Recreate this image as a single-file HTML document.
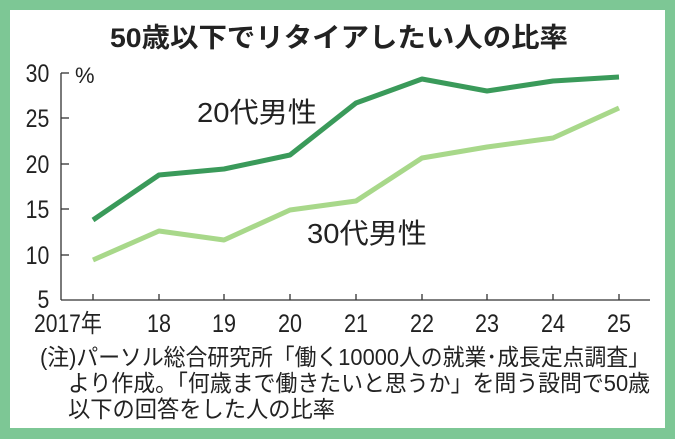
<!DOCTYPE html>
<html><head><meta charset="utf-8"><style>
html,body{margin:0;padding:0;background:#7dc795;}
body{width:675px;height:439px;position:relative;overflow:hidden;font-family:"Liberation Sans","Noto Sans CJK JP",sans-serif;}
.in{position:absolute;left:10px;top:10px;width:655px;height:418px;background:#fff;}
svg{position:absolute;left:0;top:0}
.t{font-family:"Liberation Sans","Noto Sans CJK JP",sans-serif;}
</style></head><body>
<div class="in"></div>
<svg width="675" height="439" viewBox="0 0 675 439">
<text class="t" x="110" y="47" font-size="27" font-weight="bold" textLength="458" lengthAdjust="spacingAndGlyphs" fill="#222">50歳以下でリタイアしたい人の比率</text>
<g stroke="#333" stroke-width="1.3" fill="none">
<line x1="61" y1="73" x2="61" y2="300"/>
<line x1="61" y1="300" x2="650" y2="300"/>
<line x1="61" y1="73" x2="69" y2="73"/>
<line x1="61" y1="118" x2="69" y2="118"/>
<line x1="61" y1="164" x2="69" y2="164"/>
<line x1="61" y1="209" x2="69" y2="209"/>
<line x1="61" y1="255" x2="69" y2="255"/>
<g>
<line x1="93" y1="300" x2="93" y2="294"/><line x1="159" y1="300" x2="159" y2="294"/>
<line x1="224" y1="300" x2="224" y2="294"/><line x1="290" y1="300" x2="290" y2="294"/>
<line x1="356" y1="300" x2="356" y2="294"/><line x1="422" y1="300" x2="422" y2="294"/>
<line x1="487" y1="300" x2="487" y2="294"/><line x1="553" y1="300" x2="553" y2="294"/>
<line x1="619" y1="300" x2="619" y2="294"/>
</g></g>
<g class="t" font-size="25" fill="#222" text-anchor="end" transform="scale(0.85,1)">
<text x="58" y="82">30</text><text x="58" y="127">25</text><text x="58" y="173">20</text>
<text x="58" y="218">15</text><text x="58" y="264">10</text><text x="58" y="308">5</text>
</g>
<text class="t" x="75" y="83" font-size="22" fill="#222">%</text>
<g class="t" font-size="25" fill="#222" text-anchor="middle">
<text x="68" y="332" textLength="68" lengthAdjust="spacingAndGlyphs">2017年</text>
<text x="159" y="332" textLength="24" lengthAdjust="spacingAndGlyphs">18</text>
<text x="224" y="332" textLength="24" lengthAdjust="spacingAndGlyphs">19</text>
<text x="290" y="332" textLength="24" lengthAdjust="spacingAndGlyphs">20</text>
<text x="356" y="332" textLength="24" lengthAdjust="spacingAndGlyphs">21</text>
<text x="422" y="332" textLength="24" lengthAdjust="spacingAndGlyphs">22</text>
<text x="487" y="332" textLength="24" lengthAdjust="spacingAndGlyphs">23</text>
<text x="553" y="332" textLength="24" lengthAdjust="spacingAndGlyphs">24</text>
<text x="619" y="332" textLength="24" lengthAdjust="spacingAndGlyphs">25</text>
</g>
<polyline fill="none" stroke="#3a9a5a" stroke-width="5" stroke-linejoin="round" points="93,220 159,175 224,169 290,155 356,103 422,79 487,91 553,81 619,77"/>
<polyline fill="none" stroke="#a8d88a" stroke-width="5" stroke-linejoin="round" points="93,260 159,231 224,240 290,210 356,201 422,158 487,147 553,138 619,108"/>
<text class="t" x="197" y="122" font-size="28" fill="#222" textLength="120" lengthAdjust="spacingAndGlyphs">20代男性</text>
<text class="t" x="307" y="243" font-size="28" fill="#222" textLength="120" lengthAdjust="spacingAndGlyphs">30代男性</text>
<g class="t" font-size="23" fill="#222">
<text x="40" y="365" textLength="610" lengthAdjust="spacingAndGlyphs">(注)パーソル総合研究所「働く10000人の就業･成長定点調査」</text>
<text x="68" y="391" textLength="582" lengthAdjust="spacingAndGlyphs">より作成。「何歳まで働きたいと思うか」を問う設問で50歳</text>
<text x="68" y="417" textLength="267" lengthAdjust="spacingAndGlyphs">以下の回答をした人の比率</text>
</g>
</svg>
</body></html>
